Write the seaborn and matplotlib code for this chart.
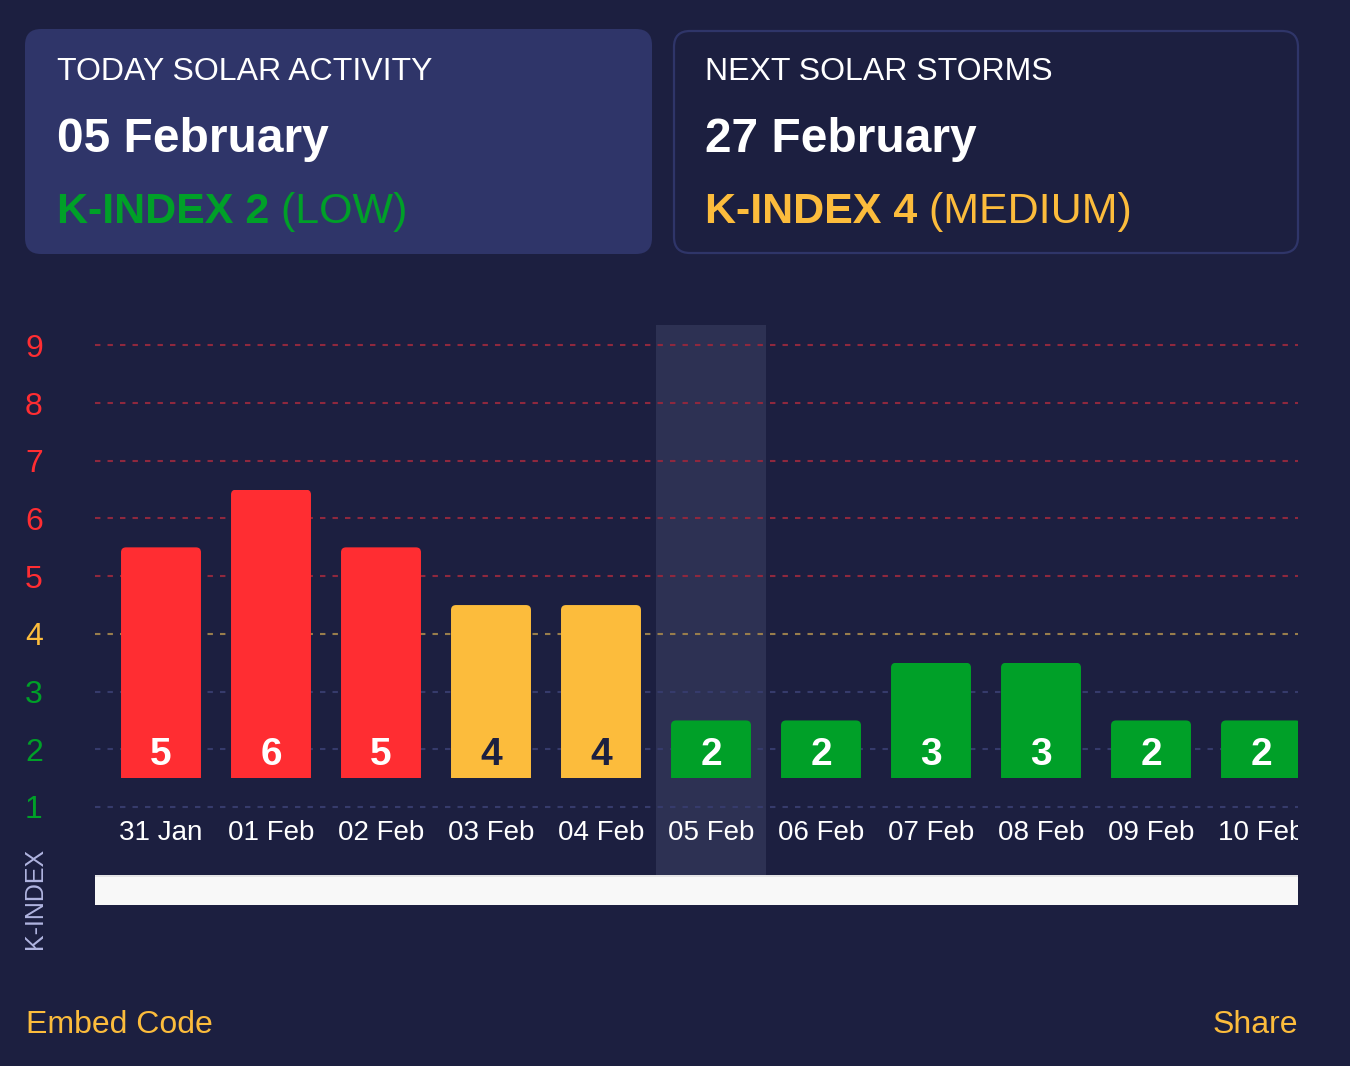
import matplotlib
matplotlib.use("Agg")
import matplotlib.pyplot as plt
from matplotlib.patches import FancyBboxPatch, Rectangle
import pandas as pd
import seaborn as sns

# ---------------- data ----------------
dates = ["31 Jan", "01 Feb", "02 Feb", "03 Feb", "04 Feb", "05 Feb",
         "06 Feb", "07 Feb", "08 Feb", "09 Feb", "10 Feb"]
k_index = [5, 6, 5, 4, 4, 2, 2, 3, 3, 2, 2]
y_ticks = [1, 2, 3, 4, 5, 6, 7, 8, 9]
today_date = "05 Feb"

card1_title = "TODAY SOLAR ACTIVITY"
card1_date = "05 February"
card1_k = "K-INDEX 2"
card1_level = " (LOW)"
card2_title = "NEXT SOLAR STORMS"
card2_date = "27 February"
card2_k = "K-INDEX 4"
card2_level = " (MEDIUM)"
y_label = "K-INDEX"
footer_left = "Embed Code"
footer_right = "Share"

# ---------------- style ----------------
BG = "#1c1f40"
CARD = "#2f3569"
HL = "#2d3153"
RED = "#ff2d32"
ORANGE = "#fcbc3c"
GREEN = "#00a028"
DARK_TXT = "#1d2040"
GRID_RED = "#8f283e"
GRID_ORANGE = "#987d4c"
GRID_BLUE = "#363b6c"


def level(k):
    if k >= 5:
        return "high"
    if k == 4:
        return "medium"
    return "low"


level_color = {"high": RED, "medium": ORANGE, "low": GREEN}
grid_color = {"high": GRID_RED, "medium": GRID_ORANGE, "low": GRID_BLUE}

sns.set_theme(style="dark")
plt.rcParams["font.family"] = ["Liberation Sans", "DejaVu Sans"]

df = pd.DataFrame({"date": dates, "k": k_index})
df["level"] = df["k"].map(level)
BAR_BASE = 1.5
df["bar_h"] = df["k"] + 0.5 - BAR_BASE

W, H = 1350, 1066
fig = plt.figure(figsize=(W / 100, H / 100), dpi=100, facecolor=BG)

# overlay in pixel coordinates for the cards and footer
ov = fig.add_axes([0, 0, 1, 1], zorder=0)
ov.set_xlim(0, W)
ov.set_ylim(H, 0)
ov.axis("off")
ov.patch.set_alpha(0)

ov.add_patch(FancyBboxPatch((25, 29), 627, 225,
                            boxstyle="round,pad=0,rounding_size=16",
                            fc=CARD, ec="none"))
ov.add_patch(FancyBboxPatch((674, 31), 624, 222,
                            boxstyle="round,pad=0,rounding_size=16",
                            fc=BG, ec=CARD, lw=1.6))


def card(x, title, date, ktxt, lvl, color):
    ov.text(x, 80, title, color="white", fontsize=23, va="baseline")
    ov.text(x, 152, date, color="white", fontsize=34.5, fontweight="bold",
            va="baseline")
    t = ov.text(x, 223, ktxt, color=color, fontsize=31, fontweight="bold",
                va="baseline")
    ov.annotate(lvl, xy=(1, 0), xycoords=t, color=color, fontsize=31,
                va="bottom", ha="left")


card(57, card1_title, card1_date, card1_k, card1_level, GREEN)
card(705, card2_title, card2_date, card2_k, card2_level, ORANGE)

ov.text(26, 1033, footer_left, color=ORANGE, fontsize=23, va="baseline")
ov.text(1298, 1033, footer_right, color=ORANGE, fontsize=23, va="baseline",
        ha="right")

# chart axes
ax_left, ax_right, ax_top, ax_bottom = 95, 1298, 325, 905
ax = fig.add_axes([ax_left / W, 1 - ax_bottom / H,
                   (ax_right - ax_left) / W, (ax_bottom - ax_top) / H],
                  zorder=1)
ax.patch.set_alpha(0)

sns.barplot(data=df, x="date", y="bar_h", hue="level", palette=level_color,
            saturation=1, dodge=False, width=0.727, bottom=BAR_BASE,
            errorbar=None, legend=False, ax=ax, zorder=3, linewidth=0)

unit_px = 57.7
cat_px = 110
y_min = 1 - (ax_bottom - 807) / unit_px
y_max = 1 + (807 - ax_top) / unit_px
ax.set_ylim(y_min, y_max)
ax.set_xlim(-(161 - ax_left) / cat_px,
            len(dates) - 1 + (ax_right - 1261) / cat_px)

# round the top corners of the bars (bottom stays square)
radius_px = 5
for p in list(ax.patches):
    x0, y0 = p.get_x(), p.get_y()
    w, h = p.get_width(), p.get_height()
    ext = 0.3
    clip = FancyBboxPatch((x0, y0 - ext), w, h + ext,
                          boxstyle=f"round,pad=0,rounding_size={radius_px / cat_px}",
                          mutation_aspect=cat_px / unit_px,
                          transform=ax.transData, fc="none", ec="none")
    p.set_clip_path(clip)

for v in y_ticks:
    ax.axhline(v, color=grid_color[level(v)], lw=1.5,
               ls=(0, (2.6, 3.4)), zorder=1)

# highlight for today's column
scroll_frac = 30 / (ax_bottom - ax_top)
idx = dates.index(today_date)
ax.axvspan(idx - 0.5, idx + 0.5, ymin=scroll_frac, ymax=1, color=HL,
           lw=0, zorder=0.5)

# scrollbar
ax.add_patch(Rectangle((0, 0), 1, scroll_frac, transform=ax.transAxes,
                       fc="#f8f8f8", ec="none", zorder=4))
ax.add_patch(Rectangle((0, scroll_frac - 0.003), 1, 0.003,
                       transform=ax.transAxes, fc="#e4e4e6", ec="none",
                       zorder=4))

# value labels and date labels
for i, (d, k) in enumerate(zip(dates, k_index)):
    tc = DARK_TXT if level(k) == "medium" else "white"
    ax.text(i, 1.728, str(k), color=tc, fontsize=28, fontweight="bold",
            ha="center", va="baseline", zorder=5, clip_on=True)
    ax.text(i, 0.428, d, color="white", fontsize=20, ha="center",
            va="baseline", zorder=5, clip_on=True)

ax.set_yticks(y_ticks)
ax.set_yticklabels([str(v) for v in y_ticks])
ax.tick_params(axis="y", length=0, pad=44, labelsize=23)
for lbl, v in zip(ax.get_yticklabels(), y_ticks):
    lbl.set_color(level_color[level(v)])
    lbl.set_ha("center")
ax.tick_params(axis="x", length=0, labelbottom=False)
ax.set_xlabel("")
ax.set_ylabel(y_label, color="#b0b4e0", fontsize=18)
ax.yaxis.set_label_coords(-(ax_left - 35) / (ax_right - ax_left),
                          (ax_bottom - 898) / (ax_bottom - ax_top))
ax.yaxis.label.set_va("center")
for s in ax.spines.values():
    s.set_visible(False)
ax.grid(False)

fig.savefig("out.png", dpi=100, facecolor=BG)
